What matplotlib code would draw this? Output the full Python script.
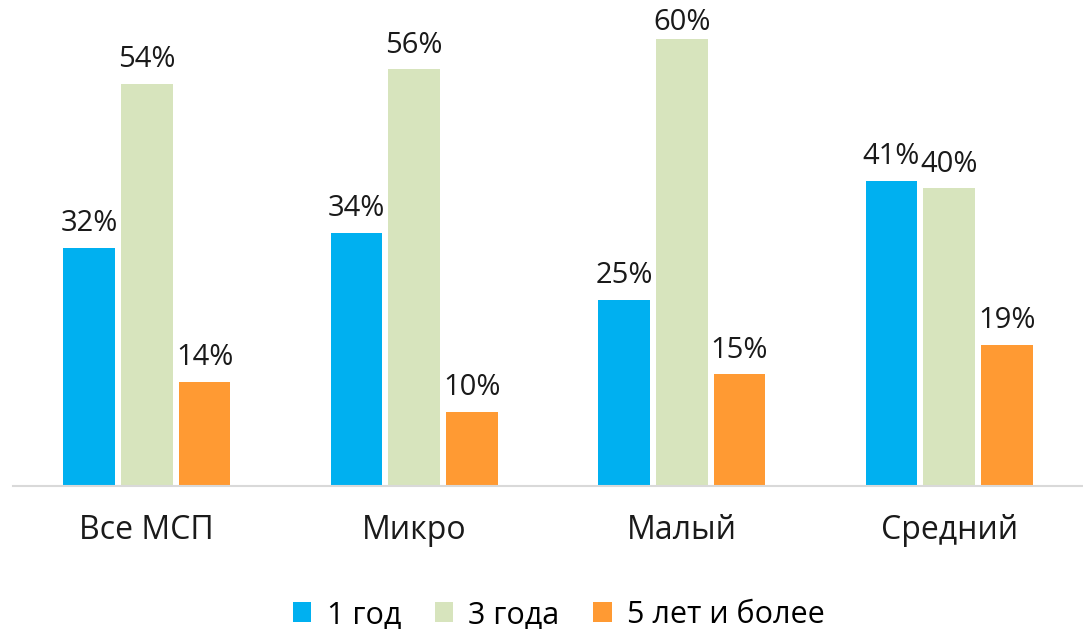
import numpy as np
import matplotlib.pyplot as plt

# данные
categories = ['Все МСП', 'Микро', 'Малый', 'Средний']
series_names = ['1 год', '3 года', '5 лет и более']
one_year = [32, 34, 25, 41]
three_years = [54, 56, 60, 40]
five_years = [14, 10, 15, 19]

colors = ['#00B0F0', '#D7E4BD', '#FF9A33']

plt.rcParams['font.family'] = ['Open Sans', 'DejaVu Sans']

fig = plt.figure(figsize=(10.83, 6.29), dpi=100)
ax = fig.add_axes([13 / 1083, 143 / 629, 1070 / 1083, 480 / 629])

x = np.arange(len(categories))
step = 0.216
width = 0.194
all_series = [one_year, three_years, five_years]

labels = []
for i, (vals, name, c) in enumerate(zip(all_series, series_names, colors)):
    pos = x + (i - 1) * step
    bars = ax.bar(pos, vals, width=width, color=c, label=name, zorder=2)
    for b, v in zip(bars, vals):
        t = ax.annotate(f'{v}%', (b.get_x() + b.get_width() / 2, v),
                        xytext=(0, 12), textcoords='offset points',
                        ha='center', va='baseline', fontsize=21, color='#1a1a1a')
        labels.append(t)

ax.set_xlim(-0.5, len(categories) - 0.5)
ax.set_ylim(0, 64.5)
ax.set_xticks(x)
ax.set_xticklabels(categories, fontsize=23, color='#1a1a1a')
ax.tick_params(axis='x', length=0, pad=20)
ax.set_yticks([])

for s in ['top', 'right', 'left']:
    ax.spines[s].set_visible(False)
ax.spines['bottom'].set_color('#d9d9d9')
ax.spines['bottom'].set_linewidth(1.5)

fig.legend(loc='lower center', bbox_to_anchor=(0.516, -0.045), ncol=3,
           frameon=False, fontsize=22, handlelength=0.6, handleheight=0.6,
           handletextpad=0.5, columnspacing=1.1)

# подписи, вылезающие за верх картинки, сдвигаем вниз (как в Excel)
fig.canvas.draw()
r = fig.canvas.get_renderer()
top = fig.bbox.height - 8
for t in labels:
    bb = t.get_window_extent(r)
    if bb.y1 > top:
        t.set_position((0, 12 - (bb.y1 - top) * 72 / fig.dpi))

plt.savefig('out.png', dpi=100)
